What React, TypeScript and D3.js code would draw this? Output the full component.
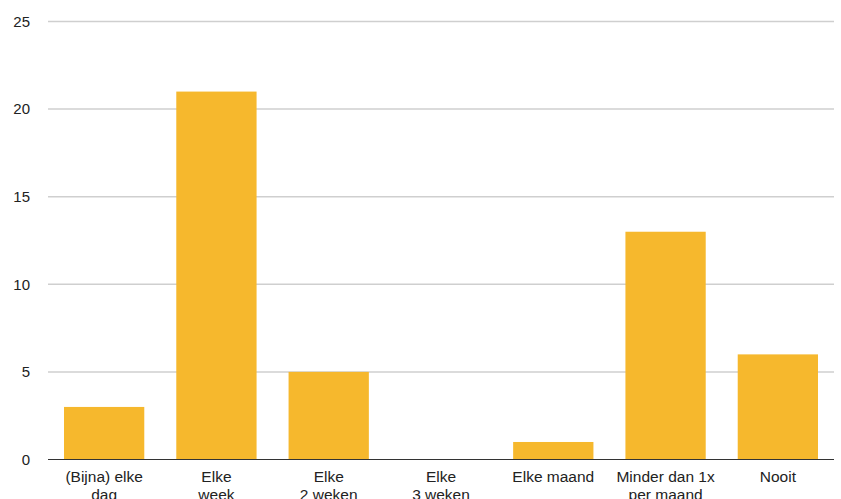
import * as d3 from "d3";

const categories = [
  ["(Bijna) elke", "dag"],
  ["Elke", "week"],
  ["Elke", "2 weken"],
  ["Elke", "3 weken"],
  ["Elke maand"],
  ["Minder dan 1x", "per maand"],
  ["Nooit"],
];
const values = [3, 21, 5, 0, 1, 13, 6];
const yTicks = [0, 5, 10, 15, 20, 25];

export default function App() {
  const width = 841;
  const height = 499;
  const left = 48;
  const right = 834;
  const top = 21.5;
  const bottom = 459.5;

  const x = d3
    .scaleBand<number>()
    .domain(d3.range(values.length))
    .range([left, right])
    .paddingInner(0.285)
    .paddingOuter(0.1425);
  const y = d3.scaleLinear().domain([0, 25]).range([bottom, top]);

  const font = "'Liberation Sans', Arial, Helvetica, sans-serif";

  return (
    <svg
      width={width}
      height={height}
      style={{ position: "absolute", left: 0, top: 0 }}
      fontFamily={font}
    >
      <rect width={width} height={height} fill="#fff" />
      {yTicks.map((t) => (
        <g key={t}>
          {t > 0 && (
            <line x1={left} x2={right} y1={y(t)} y2={y(t)} stroke="#cfcfcf" strokeWidth={1.5} />
          )}
          <text x={30} y={y(t)} dy="0.35em" textAnchor="end" fontSize={15} fill="#222">
            {t}
          </text>
        </g>
      ))}
      {values.map((v, i) => (
        <rect
          key={i}
          x={x(i)}
          width={x.bandwidth()}
          y={y(v)}
          height={y(0) - y(v)}
          fill="#F6B82D"
        />
      ))}
      <line x1={left} x2={right} y1={bottom} y2={bottom} stroke="#333" strokeWidth={1.2} />
      {categories.map((lines, i) => (
        <text
          key={i}
          x={(x(i) as number) + x.bandwidth() / 2}
          y={482}
          textAnchor="middle"
          fontSize={15.5}
          fill="#222"
        >
          {lines.map((l, j) => (
            <tspan key={j} x={(x(i) as number) + x.bandwidth() / 2} dy={j === 0 ? 0 : 18}>
              {l}
            </tspan>
          ))}
        </text>
      ))}
    </svg>
  );
}
